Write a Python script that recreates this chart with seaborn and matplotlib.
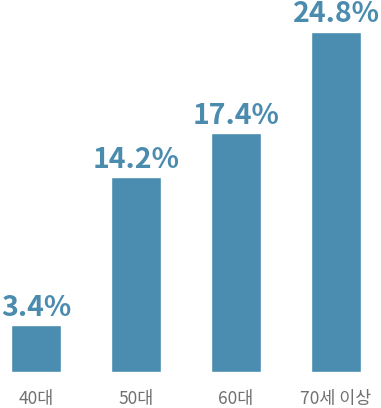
import matplotlib
matplotlib.use("Agg")
import matplotlib.pyplot as plt
import seaborn as sns
import pandas as pd

categories = ["40대", "50대", "60대", "70세 이상"]
values = [3.4, 14.2, 17.4, 24.8]
value_labels = ["3.4%", "14.2%", "17.4%", "24.8%"]

sns.set_theme(style="white")
plt.rcParams['font.family'] = ['Noto Sans CJK KR', 'DejaVu Sans']

BAR = "#4a8db0"
df = pd.DataFrame({"cat": categories, "val": values})

fig = plt.figure(figsize=(3.81, 4.08), dpi=100)
ax = fig.add_axes([0, 36/408, 1, 340/408])
sns.barplot(data=df, x="cat", y="val", color=BAR, saturation=1, width=0.5, ax=ax)
ax.set_xlim(-0.36, 3.45)
ax.set_ylim(0, 24.8)
for s in ax.spines.values():
    s.set_visible(False)
ax.set_yticks([])
ax.set_xlabel("")
ax.set_ylabel("")
ax.tick_params(axis="x", length=0, pad=13, labelsize=12.5, labelcolor="#707070")
for t in ax.get_xticklabels():
    t.set_fontweight("light")

for i, (v, lab) in enumerate(zip(values, value_labels)):
    ax.annotate(lab, (i, v), xytext=(0, 7.0), textcoords="offset points",
                ha="center", va="baseline", fontsize=20.5, fontweight="bold",
                color="#4a8bae", annotation_clip=False)

fig.savefig("out.png", dpi=100)
